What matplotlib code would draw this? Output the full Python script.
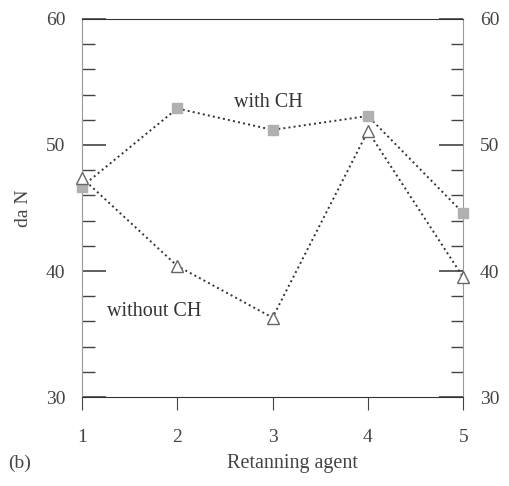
import numpy as np
import matplotlib.pyplot as plt
from matplotlib.ticker import MultipleLocator

agent = [1, 2, 3, 4, 5]
with_ch = [46.7, 52.9, 51.2, 52.3, 44.6]
without_ch = [47.4, 40.4, 36.3, 51.1, 39.5]

plt.rcParams['font.family'] = 'Liberation Serif'

fig = plt.figure(figsize=(5.09, 4.86), dpi=100)
ax = fig.add_axes([0.161, 0.183, 0.749, 0.778])

ax.plot(agent, with_ch, ls=':', color='#333333', lw=1.4,
        marker='s', ms=7, mfc='#b0b0b0', mec='#b0b0b0', clip_on=False, zorder=3)
ax.plot(agent, without_ch, ls=':', color='#333333', lw=1.4,
        marker='^', ms=8, mfc='white', mec='#666666', clip_on=False, zorder=3)

ax.set_xlim(1, 5)
ax.set_ylim(30, 60)
ax.set_xticks(agent)
ax.yaxis.set_major_locator(MultipleLocator(10))
ax.yaxis.set_minor_locator(MultipleLocator(2))

ax.tick_params(axis='y', which='both', direction='in', right=True, labelright=True,
               labelsize=14, colors='#444444', pad=12)
ax.tick_params(axis='y', which='major', length=17, width=1.2)
ax.tick_params(axis='y', which='minor', length=9, width=1)
ax.tick_params(axis='x', direction='out', length=9, labelsize=14, colors='#444444', pad=14)

for s in ['left', 'right']:
    ax.spines[s].set_color('#999999')
for s in ['top', 'bottom']:
    ax.spines[s].set_color('#333333')

ax.text(2.6, 53.0, 'with CH', fontsize=14.5, color='#333333')
ax.text(1.26, 36.4, 'without CH', fontsize=14.5, color='#333333')

ax.set_ylabel('da N', fontsize=14, color='#444444', labelpad=10)
fig.text(0.575, 0.038, 'Retanning agent', fontsize=14.5, color='#444444', ha='center')
fig.text(0.016, 0.038, '(b)', fontsize=14, color='#444444')

fig.savefig('out.png', dpi=100)
